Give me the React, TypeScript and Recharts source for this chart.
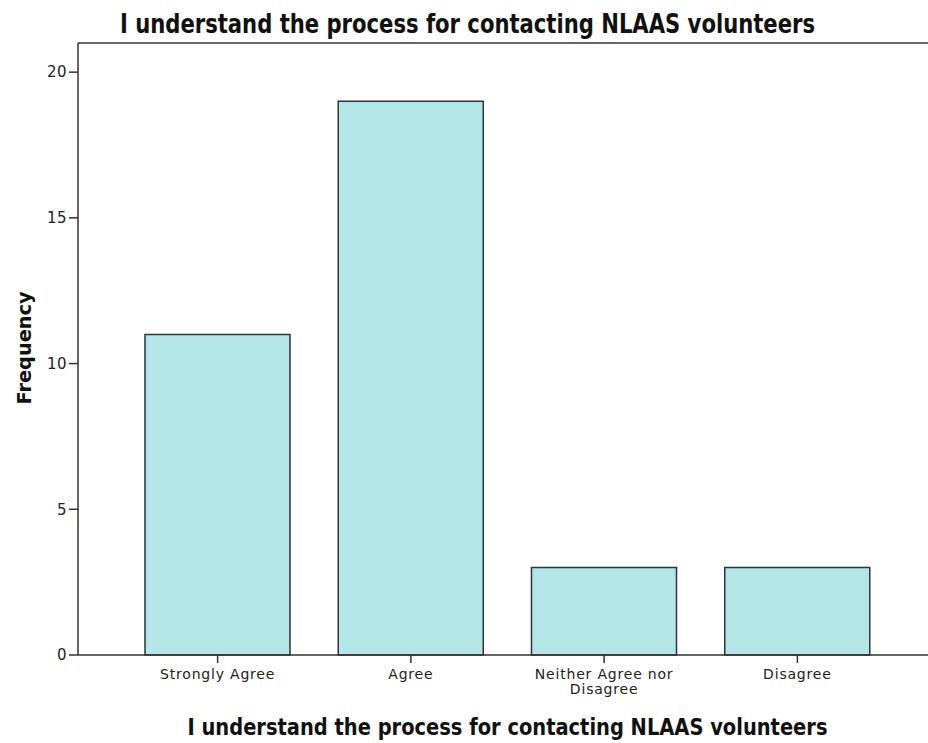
import { Bar, BarChart, Label, ReferenceLine, Text, XAxis, YAxis } from 'recharts';

const categories = ['Strongly Agree', 'Agree', 'Neither Agree nor Disagree', 'Disagree'];
const frequencies = [11, 19, 3, 3];
const yTicks = [0, 5, 10, 15, 20];

const chartTitle = 'I understand the process for contacting NLAAS volunteers';
const xTitle = 'I understand the process for contacting NLAAS volunteers';
const yTitle = 'Frequency';

const data = categories.map((name, i) => ({ name, value: frequencies[i] }));

const condensed = "'Liberation Sans Narrow', 'DejaVu Sans Condensed', sans-serif";
const tickFont = { fontFamily: "'DejaVu Sans', sans-serif", fontSize: 14, letterSpacing: 0.8, fill: '#222' };
const yTickFont = { ...tickFont, fontSize: 15, letterSpacing: 0.5 };

function CategoryTick(props: any) {
  const { x, y, payload } = props;
  return (
    <Text
      x={x}
      y={y}
      width={160}
      textAnchor="middle"
      verticalAnchor="start"
      lineHeight={15}
      style={tickFont}
      {...tickFont}
    >
      {payload.value}
    </Text>
  );
}

export default function App() {
  return (
    <div style={{ position: 'absolute', left: 0, top: 0, width: 928, height: 743, overflow: 'hidden', background: '#fff' }}>
      <svg width={928} height={40} style={{ position: 'absolute', left: 0, top: 0 }}>
        <text
          x={120}
          y={33}
          textLength={695}
          lengthAdjust="spacingAndGlyphs"
          fontFamily={condensed}
          fontWeight="bold"
          fontSize={27}
          fill="#111"
        >
          {chartTitle}
        </text>
      </svg>
      <BarChart width={940} height={743} data={data} margin={{ top: 43, right: 3, bottom: 0, left: 0 }}>
        <XAxis
          dataKey="name"
          height={88}
          padding={{ left: 43, right: 43 }}
          tickSize={8}
          tickMargin={6}
          tickLine={{ stroke: '#333', strokeWidth: 1.5 }}
          axisLine={{ stroke: '#333', strokeWidth: 1.5 }}
          tick={<CategoryTick />}
          interval={0}
        >
          <Label
            content={({ viewBox }: any) => (
              <text
                x={viewBox.x + viewBox.width / 2}
                y={viewBox.y + 80}
                textAnchor="middle"
                textLength={640}
                lengthAdjust="spacingAndGlyphs"
                fontFamily={condensed}
                fontWeight="bold"
                fontSize={23}
                fill="#111"
              >
                {xTitle}
              </text>
            )}
          />
        </XAxis>
        <YAxis
          width={78}
          domain={[0, 21]}
          ticks={yTicks}
          tickSize={9}
          tickMargin={2}
          tickLine={{ stroke: '#333', strokeWidth: 1.5 }}
          axisLine={{ stroke: '#333', strokeWidth: 1.5 }}
          tick={yTickFont}
        >
          <Label
            content={({ viewBox }: any) => {
              const cx = 31;
              const cy = viewBox.y + viewBox.height / 2 - 1;
              return (
                <text
                  x={cx}
                  y={cy}
                  transform={`rotate(-90, ${cx}, ${cy})`}
                  textAnchor="middle"
                  textLength={113}
                  lengthAdjust="spacingAndGlyphs"
                  fontFamily="'DejaVu Sans', sans-serif"
                  fontWeight="bold"
                  fontSize={19}
                  fill="#111"
                >
                  {yTitle}
                </text>
              );
            }}
          />
        </YAxis>
        <ReferenceLine y={21} stroke="#666" strokeWidth={2} />
        <Bar dataKey="value" barSize={145} fill="#b3e6e6" stroke="#333" strokeWidth={1.5} isAnimationActive={false} />
      </BarChart>
    </div>
  );
}
